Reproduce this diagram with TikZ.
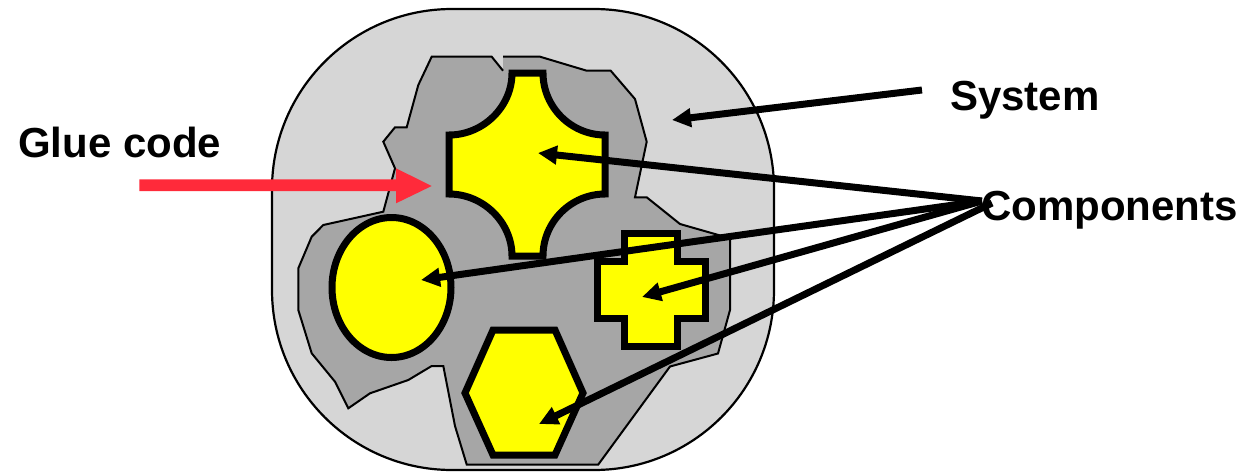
\documentclass[tikz,border=0pt]{standalone}
\usepackage{fontspec}
\setmainfont{Liberation Sans}
\usetikzlibrary{arrows.meta}
\definecolor{sysgray}{RGB}{214,214,214}
\definecolor{gluegray}{RGB}{166,166,166}
\definecolor{compyellow}{RGB}{255,255,0}
\definecolor{gluered}{RGB}{255,42,58}
\tikzset{
  sysbox/.style={draw=black, line width=2.2pt, fill=sysgray, rounded corners=180pt},
  gluefill/.style={fill=gluegray, draw=none},
  glueline/.style={draw=black, line width=2pt},
  comp/.style={draw=black, line width=7pt, fill=compyellow, line join=miter},
  pointer/.style={draw=black, line width=7pt, -{Triangle[length=19pt,width=18pt]}},
  label/.style={font=\bfseries\fontsize{42}{50}\selectfont, inner sep=0pt, anchor=base west}
}
\begin{document}
\begin{tikzpicture}[x=1pt,y=-1pt]
\useasboundingbox (0,0) rectangle (1254,472);
% system
\draw[sysbox] (272,9) rectangle (774,470);
% glue code region
\path[gluefill] (503,56.7) -- (540,56.7) -- (586.7,70.7) -- (610.7,70.7) -- (635,99) -- (646.7,141.7) -- (635,197.3) -- (646.7,197.3) -- (680,224) -- (730,238.3) -- (730,310) -- (718,353.5) -- (670,366.5) -- (598.3,464.5) -- (466.7,464.5) -- (455,426) -- (443.3,366) -- (431.7,366) -- (408.3,380) -- (370,393.3) -- (348.3,408.3) -- (335,381.7) -- (311.7,353.3) -- (298.3,310) -- (298.3,268.3) -- (311.7,236.7) -- (323.3,225) -- (383.3,211.7) -- (395,168.3) -- (383.3,141.7) -- (395,127.3) -- (406.7,127.3) -- (418.3,85) -- (431.7,56.7) -- (491.7,56.7) -- (503,70.7) -- cycle;
\draw[glueline] (503,56.7) -- (540,56.7) -- (586.7,70.7) -- (610.7,70.7) -- (635,99) -- (646.7,141.7) -- (635,197.3) -- (646.7,197.3) -- (680,224) -- (730,238.3) -- (730,310) -- (718,353.5) -- (670,366.5) -- (598.3,464.5) -- (466.7,464.5) -- (455,426) -- (443.3,366) -- (431.7,366) -- (408.3,380) -- (370,393.3) -- (348.3,408.3) -- (335,381.7) -- (311.7,353.3) -- (298.3,310) -- (298.3,268.3) -- (311.7,236.7) -- (323.3,225) -- (383.3,211.7) -- (395,168.3) -- (383.3,141.7) -- (395,127.3) -- (406.7,127.3) -- (418.3,85) -- (431.7,56.7) -- (491.7,56.7) -- (503,70.7);
% components
\draw[comp] (512,73) -- (543,73) .. controls (543,107) and (571,135) .. (605,135) -- (605,194) .. controls (571,194) and (543,222) .. (543,256) -- (512,256) .. controls (512,222) and (483,194) .. (449,194) -- (449,135) .. controls (483,135) and (512,107) .. (512,73) -- cycle;
\draw[comp] (391.5,287.5) ellipse [x radius=59.5, y radius=70];
\draw[comp] (624,233) -- (677,233) -- (677,261) -- (705,261) -- (705,318) -- (677,318) -- (677,346) -- (624,346) -- (624,318) -- (597,318) -- (597,261) -- (624,261) -- cycle;
\draw[comp] (493,330) -- (555,330) -- (583,393) -- (555,455) -- (493,455) -- (465,393) -- cycle;
% red glue arrow
\fill[gluered] (139.3,179.3) -- (396,179.3) -- (396,168.3) -- (431.7,186) -- (396,203.3) -- (396,191) -- (139.3,191) -- cycle;
% labels
\node[label] (glue) at (18,157) {Glue code};
\node[label] (system) at (950,110) {System};
\node[label] (components) at (981,220) {Components};
% arrow coordinates
\coordinate (syssrc) at (922,90);
\coordinate (systip) at (672,120);
\coordinate (compsrc) at (982,201);
\coordinate (compsrcb) at (992,203);
\coordinate (tipstar) at (538,153);
\coordinate (tipoval) at (421,280);
\coordinate (tipcross) at (642,297);
\coordinate (tiphex) at (539,424);
\draw[pointer] (syssrc) -- (systip);
\draw[pointer] (compsrc) -- (tipstar);
\draw[pointer] (compsrc) -- (tipoval);
\draw[pointer] (compsrc) -- (tipcross);
\draw[pointer] (compsrcb) -- (tiphex);
\end{tikzpicture}
\end{document}
